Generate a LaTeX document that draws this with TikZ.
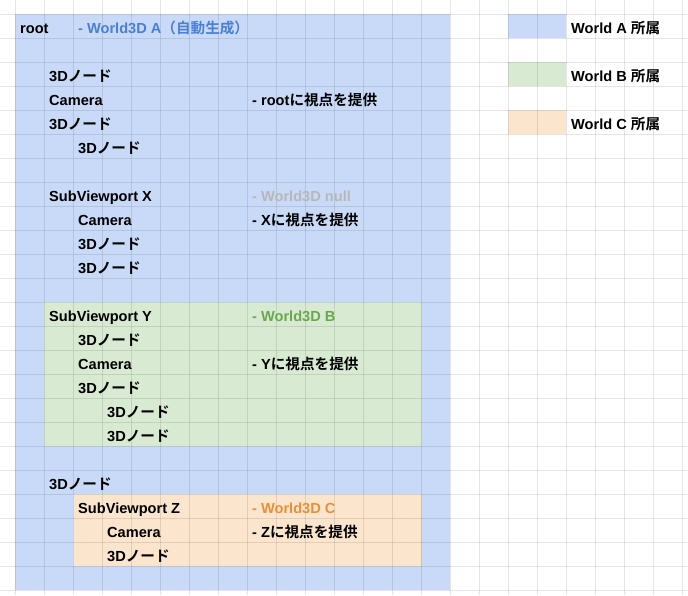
\documentclass[tikz,border=0pt]{standalone}
\usepackage{fontspec}
\setmainfont{Liberation Sans}
\newfontfamily\jp[BoldFont={Noto Sans CJK JP Bold}]{Noto Sans CJK JP}
\newcommand\J[1]{{\jp\bfseries #1}}
\definecolor{fillA}{HTML}{C9DAF8}
\definecolor{fillB}{HTML}{D9EAD3}
\definecolor{fillC}{HTML}{FCE5CD}
\definecolor{txtA}{HTML}{4A7FD4}
\definecolor{txtB}{HTML}{6AA84F}
\definecolor{txtC}{HTML}{E69138}
\definecolor{txtN}{HTML}{B7B7B7}
\begin{document}
\begin{tikzpicture}[x=1pt,y=-1pt,
  cell/.style={anchor=base west, inner sep=0pt, font=\fontsize{14.6}{17}\selectfont\bfseries},
  gridline/.style={draw=black, draw opacity=0.10, line width=0.9pt}]
\useasboundingbox (0,0) rectangle (688,595);
\fill[white] (0,0) rectangle (688,595);
% world regions
\fill[fillA] (15,14.3) rectangle (450,590.3);
\fill[fillB] (44.3,302.3) rectangle (421,446.3);
\fill[fillC] (73.3,494.3) rectangle (421,566.3);
% legend swatches
\fill[fillA] (508.3,14.3) rectangle (566.3,38.3);
\fill[fillB] (508.3,62.3) rectangle (566.3,86.3);
\fill[fillC] (508.3,110.3) rectangle (566.3,134.3);
% grid
\foreach \k in {0,...,23} \draw[gridline] ({15+29*\k},0) -- ({15+29*\k},595);
\foreach \r in {0,...,24} \draw[gridline] (0,{14.3+24*\r}) -- (688,{14.3+24*\r});
% texts
\node[cell] (root) at (20,33.2) {root};
\node[cell,text=txtA] (wA) at (78,33.2) {- World3D A\J{（自動生成）}};
\node[cell] (n1) at (49,81.2) {3D\J{ノード}};
\node[cell] (cam1) at (49,105.2) {Camera};
\node[cell] (cam1c) at (252,105.2) {- root\J{に視点を提供}};
\node[cell] (n2) at (49,129.2) {3D\J{ノード}};
\node[cell] (n3) at (78,153.2) {3D\J{ノード}};
\node[cell] (svx) at (49,201.2) {SubViewport X};
\node[cell,text=txtN] (wN) at (252,201.2) {- World3D null};
\node[cell] (camx) at (78,225.2) {Camera};
\node[cell] (camxc) at (252,225.2) {- X\J{に視点を提供}};
\node[cell] (n4) at (78,249.2) {3D\J{ノード}};
\node[cell] (n5) at (78,273.2) {3D\J{ノード}};
\node[cell] (svy) at (49,321.2) {SubViewport Y};
\node[cell,text=txtB] (wB) at (252,321.2) {- World3D B};
\node[cell] (n6) at (78,345.2) {3D\J{ノード}};
\node[cell] (camy) at (78,369.2) {Camera};
\node[cell] (camyc) at (252,369.2) {- Y\J{に視点を提供}};
\node[cell] (n7) at (78,393.2) {3D\J{ノード}};
\node[cell] (n8) at (107,417.2) {3D\J{ノード}};
\node[cell] (n9) at (107,441.2) {3D\J{ノード}};
\node[cell] (n10) at (49,489.2) {3D\J{ノード}};
\node[cell] (svz) at (78,513.2) {SubViewport Z};
\node[cell,text=txtC] (wC) at (252,513.2) {- World3D C};
\node[cell] (camz) at (107,537.2) {Camera};
\node[cell] (camzc) at (252,537.2) {- Z\J{に視点を提供}};
\node[cell] (n11) at (107,561.2) {3D\J{ノード}};
% legend
\node[cell] (lA) at (571,33.2) {World A \J{所属}};
\node[cell] (lB) at (571,81.2) {World B \J{所属}};
\node[cell] (lC) at (571,129.2) {World C \J{所属}};
\end{tikzpicture}
\end{document}
